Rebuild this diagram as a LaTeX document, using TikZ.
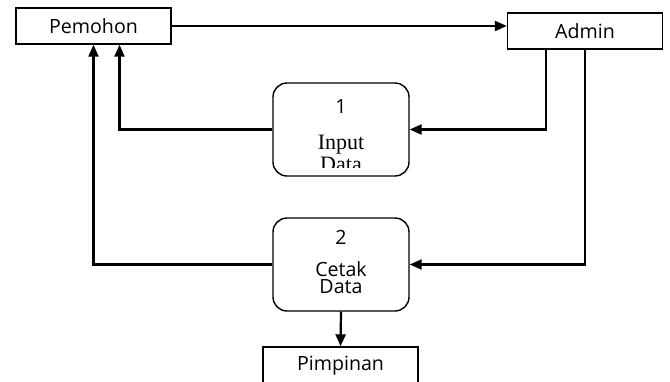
\documentclass[tikz,border=0pt]{standalone}
\usepackage{fontspec}
\setmainfont{Liberation Serif}
\setsansfont{Open Sans}
\usetikzlibrary{arrows.meta, positioning, shapes}
\newcommand{\sansfnt}{\sffamily\fontsize{9.8}{11}\selectfont}
\newcommand{\seriffnt}{\rmfamily\fontsize{11}{11}\selectfont}

\begin{document}
\begin{tikzpicture}[
    x = 0.5pt, y = -0.5pt,
    entity/.style = {rectangle, draw, line width=0.7pt,
    minimum width=77.5pt, minimum height=18pt, inner sep=0pt,
    font=\sansfnt},
    proc/.style = {rectangle, rounded corners=7pt, draw, line width=0.7pt,
    minimum width=68pt, minimum height=46.5pt, inner sep=0pt},
    lbl/.style = {inner sep=0pt, align=center, font=#1},% font
    flow/.style = {line width=1.1pt, -{Triangle[length=6pt,width=5pt]}}
    ]
    %
    \clip (0,0) rectangle (670,381);
    \node (Pemohon) [entity] at (93.5,26) {Pemohon};
    \node (Admin) [entity] at (585,31) {Admin};
    \node (p1) [proc] at (341,129.5) {};
    \node (p2) [proc] at (341,264.5) {};
    \node (Pimpinan) [entity, minimum height=25pt] at (340.5,372) {};
    \node (PimpinanTxt) [lbl=\sansfnt] at (340.5,366) {Pimpinan};
    %
    \node (p1no) [lbl=\sansfnt] at (341,106) {1};
    \begin{scope}
        \clip (273,130) rectangle (409,167);
        \node (p1txt) [lbl=\seriffnt] at (341,153) {Input\\Data};
    \end{scope}
    \node (p2no) [lbl=\sansfnt] at (341,237) {2};
    \node (p2txt) [lbl={\sffamily\fontsize{9.8}{8.5}\selectfont}] at (341,278) {Cetak\\Data};
    %
    \draw[flow] (Pemohon.east) -- (Pemohon.east -| Admin.west);
    \draw[flow] ([xshift=-19.5pt]Admin.south) |- (p1.east);
    \draw[flow] (p1.west) -| ([xshift=13pt]Pemohon.south);
    \draw[flow] (Admin.south) |- (p2.east);
    \draw[flow] (p2.west) -| (Pemohon.south);
    \draw[flow] (p2.south) -- (Pimpinan.north);
\end{tikzpicture}
\end{document}
